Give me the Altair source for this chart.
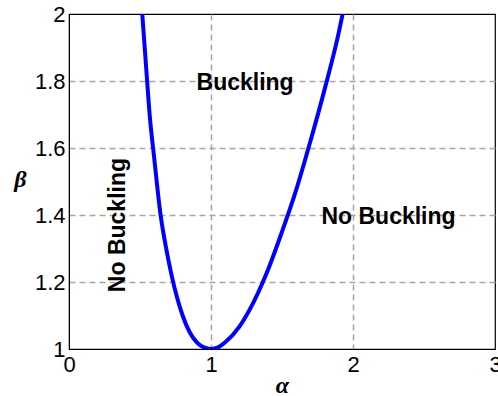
import altair as alt
import pandas as pd

# curve points
alpha = [0.516, 0.54, 0.57, 0.60, 0.645, 0.68, 0.72, 0.76, 0.80, 0.85, 0.90, 0.95, 1.00,
         1.05, 1.10, 1.20, 1.30, 1.40, 1.50, 1.60, 1.70, 1.80, 1.90, 1.927]
beta = [2.00, 1.86, 1.69, 1.57, 1.40, 1.31, 1.225, 1.155, 1.10, 1.05, 1.02, 1.005, 1.00,
        1.005, 1.02, 1.067, 1.14, 1.235, 1.35, 1.475, 1.62, 1.775, 1.945, 2.00]

# region labels
lab_text = ["Buckling", "No Buckling"]
lab_x = [1.24, 2.25]
lab_y = [1.795, 1.395]
rot_text = ["No Buckling"]
rot_x = [0.345]
rot_y = [1.37]

x_ticks = [0, 1, 2, 3]
y_ticks = [1, 1.2, 1.4, 1.6, 1.8, 2]

curve = pd.DataFrame({"alpha": alpha, "beta": beta})
labels = pd.DataFrame({"t": lab_text, "a": lab_x, "b": lab_y})
rlabels = pd.DataFrame({"t": rot_text, "a": rot_x, "b": rot_y})

xs = alt.Scale(domain=[0, 3], nice=False, zero=False)
ys = alt.Scale(domain=[1, 2], nice=False, zero=False)

common = dict(grid=True, gridDash=[6, 4], gridColor="#a6a6a6", gridWidth=1.5,
              domainColor="black", ticks=False, labelFlush=False,
              labelFont="Liberation Sans", labelFontSize=22, labelColor="black",
              titleFont="Liberation Serif", titleFontSize=24, titleFontStyle="italic",
              titleFontWeight="bold", titleColor="black")

xaxis = alt.Axis(values=x_ticks, title="α", format="d", labelPadding=5,
                 gridOpacity=alt.condition("datum.value <= 0 || datum.value >= 3",
                                           alt.value(0), alt.value(1)),
                 titleY=36, titleBaseline="middle", **common)
yaxis = alt.Axis(values=y_ticks, title="β", format="~g", labelPadding=4,
                 gridOpacity=alt.condition("datum.value <= 1 || datum.value >= 2",
                                           alt.value(0), alt.value(1)),
                 titleAngle=0, titleX=-49, titleY=165, titleAlign="center",
                 titleBaseline="middle", **common)

line = alt.Chart(curve).mark_line(color="#0000ff", strokeWidth=4, clip=True,
                                  interpolate="monotone").encode(
    x=alt.X("alpha:Q", scale=xs, axis=xaxis),
    y=alt.Y("beta:Q", scale=ys, axis=yaxis),
)

txt = alt.Chart(labels).mark_text(font="Liberation Sans", fontSize=23, fontWeight="bold",
                                  color="black", align="center", baseline="middle").encode(
    x=alt.X("a:Q", scale=xs), y=alt.Y("b:Q", scale=ys), text="t:N")

rtxt = alt.Chart(rlabels).mark_text(font="Liberation Sans", fontSize=23, fontWeight="bold",
                                    color="black", align="center", baseline="middle",
                                    angle=270).encode(
    x=alt.X("a:Q", scale=xs), y=alt.Y("b:Q", scale=ys), text="t:N")

chart = alt.layer(line, txt, rtxt).properties(
    width=426, height=335,
    autosize=alt.AutoSizeParams(type="none"),
    padding={"left": 69, "top": 14, "right": 3, "bottom": 47},
    background="white",
).configure_view(stroke="black", strokeWidth=1.2)

chart.save("out.html", embed_options={"renderer": "svg", "actions": False})
